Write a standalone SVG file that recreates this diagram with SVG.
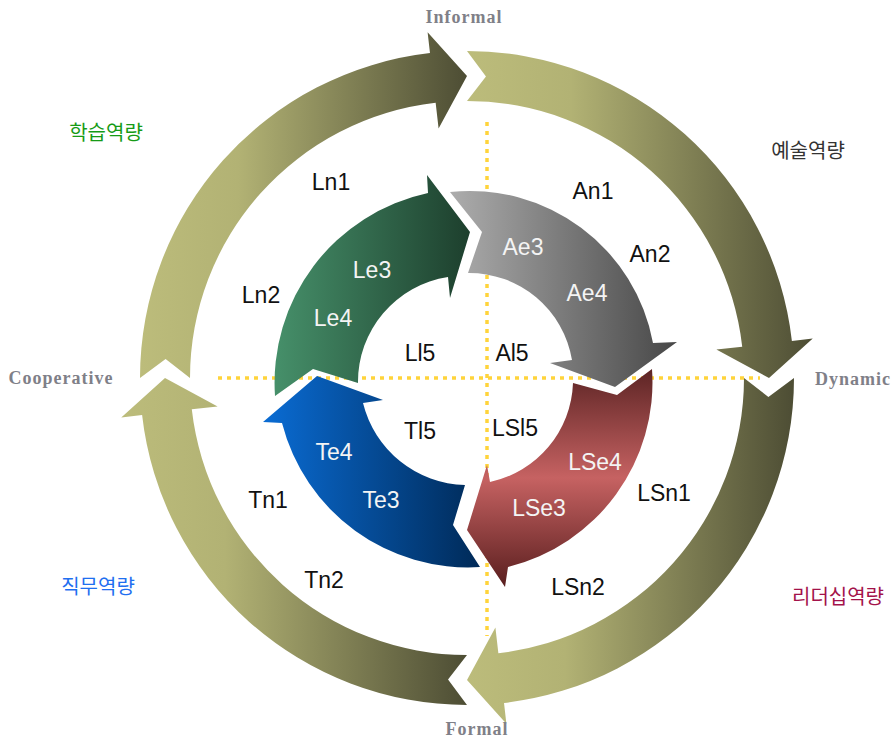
<svg xmlns="http://www.w3.org/2000/svg" width="895" height="738" viewBox="0 0 895 738">
  <defs>
    <linearGradient id="olive" x1="0" y1="0" x2="1" y2="0">
      <stop offset="0" stop-color="#bcbc7b"/>
      <stop offset="0.3" stop-color="#b2b274"/>
      <stop offset="1" stop-color="#4d4d34"/>
    </linearGradient>
    <linearGradient id="green" x1="0" y1="0" x2="1" y2="0">
      <stop offset="0" stop-color="#46906a"/>
      <stop offset="1" stop-color="#1d3f2d"/>
    </linearGradient>
    <linearGradient id="gray" x1="0" y1="0" x2="1" y2="0">
      <stop offset="0" stop-color="#adadad"/>
      <stop offset="1" stop-color="#474747"/>
    </linearGradient>
    <linearGradient id="red" x1="0" y1="0" x2="0" y2="1">
      <stop offset="0" stop-color="#5c2424"/>
      <stop offset="0.5" stop-color="#c66262"/>
      <stop offset="1" stop-color="#591e1e"/>
    </linearGradient>
    <linearGradient id="blue" x1="0" y1="0" x2="1" y2="0">
      <stop offset="0" stop-color="#0a6cd4"/>
      <stop offset="1" stop-color="#002a58"/>
    </linearGradient>
  </defs>
  <style>
    .axis { stroke: #ffd43b; stroke-width: 3.5; stroke-dasharray: 4 5; fill: none; }
    .seg { fill: url(#olive); }
    .pole { font-family: "Liberation Serif", "Times New Roman", serif; font-weight: bold; font-size: 18px; fill: #7f8088; letter-spacing: 1px; text-anchor: middle; }
    .area { font-family: "Noto Sans CJK KR", "Noto Sans", sans-serif; font-size: 20px; text-anchor: middle; }
    .lbl { font-family: "Liberation Sans", Arial, sans-serif; font-size: 23px; text-anchor: middle; fill: #111; }
    .in { fill: #f4f4f4; }
  </style>
  <rect width="895" height="738" fill="#ffffff"/>

  <!-- dotted quadrant axes -->
  <g id="connectors">
    <line class="axis" x1="218" y1="378" x2="760" y2="378"/>
    <line class="axis" x1="487" y1="122" x2="487" y2="636"/>
  </g>

  <!-- outer cycle: four curved arrows, clockwise -->
  <g id="outer-top-left">
    <path class="seg" d="M140,378 A327,327 0 0 1 429.98,53.10 L427.61,32.24 L467,76 L438.59,128.61 L435.64,102.78 A277,277 0 0 0 190,378 L165.6,359.04 Z"/>
  </g>
  <g id="outer-top-right">
    <path class="seg" d="M467,51 A327,327 0 0 1 791.90,340.98 L812.76,338.61 L769,378 L716.39,349.59 L742.22,346.64 A277,277 0 0 0 467,101 L485.96,76.60 Z"/>
  </g>
  <g id="outer-bottom-right">
    <path class="seg" d="M794,378 A327,327 0 0 1 504.02,702.90 L506.39,723.76 L467,680 L495.41,627.39 L498.36,653.22 A277,277 0 0 0 744,378 L768.40,396.96 Z"/>
  </g>
  <g id="outer-bottom-left">
    <path class="seg" d="M467,705 A327,327 0 0 1 142.10,415.02 L121.24,417.39 L165,378 L217.61,406.41 L191.78,409.36 A277,277 0 0 0 467,655 L448.04,679.40 Z"/>
  </g>

  <!-- inner cycle -->
  <g id="inner-learning">
    <path fill="url(#green)" d="M275,396 A194,194 0 0 1 428,193 L427,175 L470,232 L450,298 L448,277 A106,106 0 0 0 358,383 L313,369 Z"/>
  </g>
  <g id="inner-art">
    <path fill="url(#gray)" d="M450,192 A186,186 0 0 1 653,343 L677,342 L615,387 L550,363 L572,360 A104,104 0 0 0 468,273 L482,232 Z"/>
  </g>
  <g id="inner-leadership">
    <path fill="url(#red)" d="M652,369 A190,190 0 0 1 508,567 L505,587 L467,530 L487,465 L490,482 A105,105 0 0 0 573,383 L617,395 Z"/>
  </g>
  <g id="inner-job">
    <path fill="url(#blue)" d="M480,567 A192,192 0 0 1 282,423 L263,422 L317,376 L383,400 L363,403 A108,108 0 0 0 465,485 L453,525 Z"/>
  </g>

  <!-- axis poles -->
  <g id="poles">
    <text class="pole" x="464" y="23">Informal</text>
    <text class="pole" x="853" y="385">Dynamic</text>
    <text class="pole" x="61" y="384">Cooperative</text>
    <text class="pole" x="477" y="735">Formal</text>
  </g>

  <!-- competency areas -->
  <g id="areas">
    <text class="area" x="106" y="140" fill="#169b16">학습역량</text>
    <text class="area" x="808" y="158" fill="#333333">예술역량</text>
    <text class="area" x="98" y="594" fill="#1f6ff0">직무역량</text>
    <text class="area" x="838" y="604" fill="#a3124a">리더십역량</text>
  </g>

  <!-- level labels -->
  <g id="labels-learning">
    <text class="lbl" x="331" y="190">Ln1</text>
    <text class="lbl" x="261" y="303">Ln2</text>
    <text class="lbl in" x="372" y="278">Le3</text>
    <text class="lbl in" x="333" y="326">Le4</text>
    <text class="lbl" x="420" y="361">Ll5</text>
  </g>
  <g id="labels-art">
    <text class="lbl" x="593" y="199">An1</text>
    <text class="lbl" x="650" y="262">An2</text>
    <text class="lbl in" x="523" y="255">Ae3</text>
    <text class="lbl in" x="587" y="301">Ae4</text>
    <text class="lbl" x="512" y="361">Al5</text>
  </g>
  <g id="labels-leadership">
    <text class="lbl" x="664" y="501">LSn1</text>
    <text class="lbl" x="578" y="595">LSn2</text>
    <text class="lbl in" x="539" y="516">LSe3</text>
    <text class="lbl in" x="595" y="470">LSe4</text>
    <text class="lbl" x="515" y="436">LSl5</text>
  </g>
  <g id="labels-job">
    <text class="lbl" x="268" y="508">Tn1</text>
    <text class="lbl" x="324" y="588">Tn2</text>
    <text class="lbl in" x="381" y="508">Te3</text>
    <text class="lbl in" x="334" y="460">Te4</text>
    <text class="lbl" x="420" y="439">Tl5</text>
  </g>
</svg>
